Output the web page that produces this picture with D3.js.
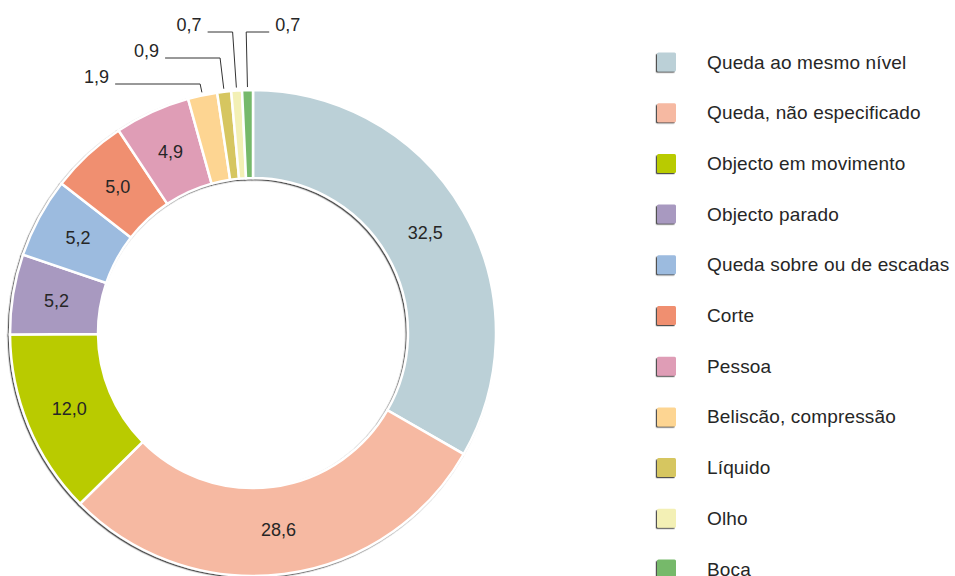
<!DOCTYPE html>
<html>
<head>
<meta charset="utf-8">
<script src="https://cdn.jsdelivr.net/npm/d3@7"></script>
<style>
  body { margin: 0; background: #fff; }
  text { font-family: "Liberation Sans", Arial, sans-serif; fill: #262626; }
</style>
</head>
<body>
<div class="container"></div>
<script>
var categories = ["Queda ao mesmo nível", "Queda, não especificado", "Objecto em movimento",
  "Objecto parado", "Queda sobre ou de escadas", "Corte", "Pessoa",
  "Beliscão, compressão", "Líquido", "Olho", "Boca"];
var values = [32.5, 28.6, 12.0, 5.2, 5.2, 5.0, 4.9, 1.9, 0.9, 0.7, 0.7];
var colors = ["#bbd0d7", "#f6b9a2", "#b9cb00", "#a899c0", "#9cbbdf", "#f08f70",
  "#df9db6", "#fdd592", "#d6c660", "#f3f0b5", "#76b96b"];

const WIDTH = 955;
const HEIGHT = 576;
const CX = 253, CY = 333;
const OUTER = 243, INNER = 155;

// small slices get their label outside with a leader line
// level = y of the horizontal part, side = which way the label goes
var outsideLabels = {
  7: {level: 84, side: -1, len: 85},
  8: {level: 58, side: -1, len: 55},
  9: {level: 32, side: -1, len: 25},
  10: {level: 32, side: 1, len: 23}
};

var fmt = function (v) {
  return v.toFixed(1).replace('.', ',');
};

var visualize = function () {
  var svg = d3.select('.container').append('svg')
    .attr('width', WIDTH)
    .attr('height', HEIGHT);

  var defs = svg.append('defs');
  var shadow = defs.append('filter').attr('id', 'shadow')
    .attr('x', '-10%').attr('y', '-10%').attr('width', '120%').attr('height', '120%');
  shadow.append('feDropShadow')
    .attr('dx', -1.2).attr('dy', 1.2).attr('stdDeviation', 0.5)
    .attr('flood-color', '#333').attr('flood-opacity', 0.85);

  var pie = d3.pie().sort(null).value(function (d) { return d; });
  var arcs = pie(values);
  var arc = d3.arc().innerRadius(INNER).outerRadius(OUTER);

  var chart = svg.append('g')
    .attr('transform', 'translate(' + CX + ',' + CY + ')');

  chart.append('g')
    .attr('filter', 'url(#shadow)')
    .selectAll('path')
    .data(arcs)
    .enter()
    .append('path')
    .attr('d', arc)
    .attr('fill', function (d, i) { return colors[i]; })
    .attr('stroke', '#fff')
    .attr('stroke-width', 2.5)
    .attr('stroke-linejoin', 'miter');

  var labelArc = d3.arc().innerRadius((INNER + OUTER) / 2).outerRadius((INNER + OUTER) / 2);

  arcs.forEach(function (d, i) {
    var opt = outsideLabels[i];
    if (!opt) {
      var c = labelArc.centroid(d);
      chart.append('text')
        .attr('x', c[0]).attr('y', c[1])
        .attr('text-anchor', 'middle')
        .attr('dominant-baseline', 'central')
        .style('font-size', '18px')
        .text(fmt(values[i]));
      return;
    }
    var a = (d.startAngle + d.endAngle) / 2;
    var sx = Math.sin(a), sy = -Math.cos(a);
    var r0 = OUTER + 3;
    var ly = opt.level - CY;
    var r1 = ly / sy;
    var p0 = [sx * r0, sy * r0];
    var p1 = [sx * r1, ly];
    var p2 = [p1[0] + opt.side * opt.len, ly];
    chart.append('polyline')
      .attr('points', [p0, p1, p2].map(function (p) { return p.join(','); }).join(' '))
      .attr('fill', 'none')
      .attr('stroke', '#333')
      .attr('stroke-width', 1);
    chart.append('text')
      .attr('x', p2[0] + opt.side * 6)
      .attr('y', ly - 7)
      .attr('text-anchor', opt.side < 0 ? 'end' : 'start')
      .attr('dominant-baseline', 'central')
      .style('font-size', '18px')
      .text(fmt(values[i]));
  });

  var legendY = d3.scalePoint().domain(categories).range([62, 569]);

  var legend = svg.append('g').selectAll('g')
    .data(categories)
    .enter()
    .append('g')
    .attr('transform', function (d) { return 'translate(657,' + legendY(d) + ')'; });

  legend.append('rect')
    .attr('x', 0).attr('y', -9.5)
    .attr('width', 19).attr('height', 19)
    .attr('rx', 1.5)
    .attr('fill', function (d, i) { return colors[i]; })
    .attr('filter', 'url(#shadow)');

  legend.append('text')
    .attr('x', 50).attr('y', 0)
    .attr('dominant-baseline', 'central')
    .style('font-size', '19px')
    .style('letter-spacing', '0.15px')
    .text(function (d) { return d; });
};

window.onload = visualize;
</script>
</body>
</html>
